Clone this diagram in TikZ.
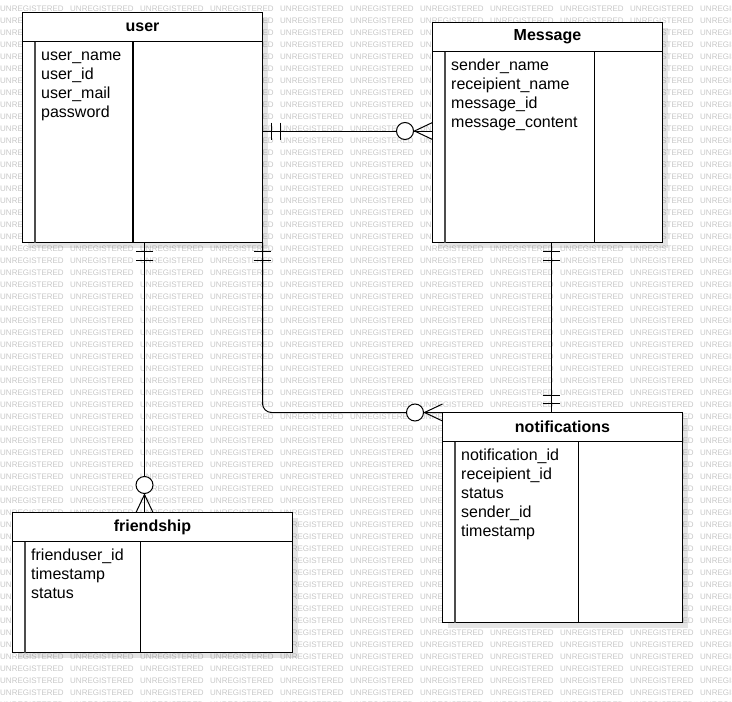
\documentclass[tikz,border=0pt]{standalone}
\usepackage{fontspec}
\setmainfont{Liberation Sans}
\usetikzlibrary{shadows}

\tikzset{
  entity/.style={rectangle, draw, line width=1.2pt, fill=white, anchor=north west,
    inner sep=0pt, outer sep=0pt,
    drop shadow={shadow xshift=5pt, shadow yshift=-5pt, opacity=0.1, fill=black}},
  title/.style={inner sep=0pt, font=\bfseries\fontsize{16}{19}\selectfont},
  field/.style={anchor=base west, inner sep=0pt, font=\fontsize{16}{19}\selectfont},
  keycol/.style={line width=1.2pt, black!70},
  rel/.style={line width=1pt},
  wm/.style={anchor=west, inner sep=0pt, text=black!22, font=\fontsize{8}{8}\selectfont},
  % relation ends, drawn pointing away from the box
  mandone/.pic={\draw[rel] (9,-8.5) -- (9,8.5) (17.5,-8.5) -- (17.5,8.5);},
  zeromany/.pic={\draw[rel] (0,-8.5) -- (18,0) -- (0,8.5);
    \draw[rel, fill=white] (27.5,0) circle (8.5pt);}
}

\begin{document}
\begin{tikzpicture}[x=1pt, y=-1pt]
    \useasboundingbox (0,0) rectangle (732,702);
    % Watermark
    \foreach \r in {0,...,58} {
        \foreach \c in {0,...,10} {
            \node[wm] (wm-\r-\c) at (70*\c, 8.3+12*\r) {UNREGISTERED};
        }
    }

    % Entities
    \node[entity, minimum width=240pt, minimum height=230pt] (user) at (22.5,12.5) {};
    \node[entity, minimum width=230pt, minimum height=220pt] (msg) at (432.5,22.5) {};
    \node[entity, minimum width=240pt, minimum height=210pt] (notif) at (442.5,412.5) {};
    \node[entity, minimum width=280pt, minimum height=140pt] (friend) at (12.5,512.5) {};

    % Header rule, key column and divider
    \foreach \e/\d in {user/110.5, msg/162, notif/136, friend/128} {
        \draw[line width=1.2pt] ([yshift=-29pt]\e.north west) -- ([yshift=-29pt]\e.north east);
        \draw[keycol] ([shift={(12.5pt,-29pt)}]\e.north west) -- ([xshift=12.5pt]\e.south west);
        \draw[line width=1.2pt] ([shift={(\d pt,-29pt)}]\e.north west) -- ([xshift=\d pt]\e.south west);
    }

    % Titles
    \node[title] (user-t) at ([yshift=-14.5pt]user.north) {user};
    \node[title] (msg-t) at ([yshift=-14.5pt]msg.north) {Message};
    \node[title] (notif-t) at ([yshift=-14.5pt]notif.north) {notifications};
    \node[title] (friend-t) at ([yshift=-14.5pt]friend.north) {friendship};

    % Fields
    \foreach \f [count=\i] in {user\_name, user\_id, user\_mail, password} {
        \node[field] (user-f\i) at ([shift={(18.5pt,{-29pt-19pt*\i})}]user.north west) {\f};
    }
    \foreach \f [count=\i] in {sender\_name, receipient\_name, message\_id, message\_content} {
        \node[field] (msg-f\i) at ([shift={(18.5pt,{-29pt-19pt*\i})}]msg.north west) {\f};
    }
    \foreach \f [count=\i] in {notification\_id, receipient\_id, status, sender\_id, timestamp} {
        \node[field] (notif-f\i) at ([shift={(18.5pt,{-29pt-19pt*\i})}]notif.north west) {\f};
    }
    \foreach \f [count=\i] in {frienduser\_id, timestamp, status} {
        \node[field] (friend-f\i) at ([shift={(18.5pt,{-29pt-19pt*\i})}]friend.north west) {\f};
    }

    % user -- Message
    \coordinate (um-a) at ([yshift=-3.5pt]user.east);
    \coordinate (um-b) at ([yshift=1.5pt]msg.west);
    \draw[rel] (um-a) -- (um-b);
    \pic at (um-a) {mandone};
    \pic[rotate=180] at (um-b) {zeromany};

    % user -- friendship
    \coordinate (uf) at ([xshift=2pt]user.south);
    \draw[rel] (uf) -- (uf |- friend.north);
    \pic[rotate=-90] at (uf) {mandone};
    \pic[rotate=90] at (uf |- friend.north) {zeromany};

    % user -- notifications
    \draw[rel, rounded corners=9pt] (user.south east) |- (notif.north west);
    \pic[rotate=-90] at (user.south east) {mandone};
    \pic[rotate=180] at (notif.north west) {zeromany};

    % Message -- notifications
    \coordinate (mn) at ([xshift=3.5pt]msg.south);
    \draw[rel] (mn) -- (mn |- notif.north);
    \pic[rotate=-90] at (mn) {mandone};
    \pic[rotate=90] at (mn |- notif.north) {mandone};
\end{tikzpicture}
\end{document}
